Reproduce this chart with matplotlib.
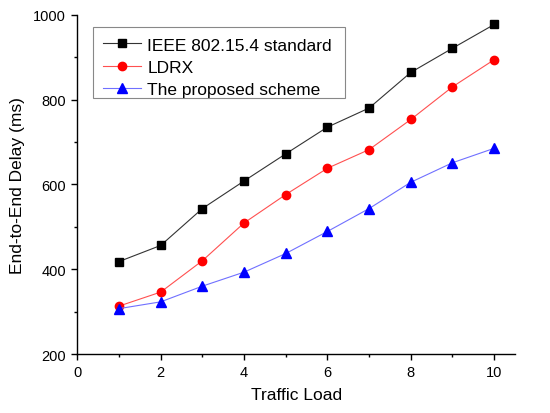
import matplotlib
matplotlib.use('Agg')
import matplotlib.pyplot as plt
from matplotlib.patches import Rectangle
from matplotlib.ticker import MultipleLocator

plt.rcParams['font.family'] = ['Liberation Sans', 'DejaVu Sans']

# data
load = [1, 2, 3, 4, 5, 6, 7, 8, 9, 10]
ieee = [418, 456, 543, 608, 672, 735, 780, 864, 921, 977]
ldrx = [313, 346, 420, 509, 576, 638, 682, 753, 830, 894]
proposed = [307, 323, 360, 393, 437, 489, 543, 605, 651, 685]

fig = plt.figure(figsize=(5.5, 4.14), dpi=100)
ax = fig.add_axes([0.1406, 0.1425, 0.7958, 0.8195])

ax.plot(load, ieee, color='#333333', lw=0.8, marker='s', ms=5.5,
        mfc='black', mec='black', label='IEEE 802.15.4 standard')
ax.plot(load, ldrx, color='#ff5050', lw=0.8, marker='o', ms=6,
        mfc='red', mec='red', label='LDRX')
ax.plot(load, proposed, color='#7070ff', lw=0.8, marker='^', ms=6.5,
        mfc='blue', mec='blue', label='The proposed scheme')

ax.set_xlim(0, 10.5)
ax.set_ylim(200, 1000)
ax.xaxis.set_major_locator(MultipleLocator(2))
ax.xaxis.set_minor_locator(MultipleLocator(1))
ax.yaxis.set_major_locator(MultipleLocator(200))
ax.yaxis.set_minor_locator(MultipleLocator(100))
ax.tick_params(which='major', direction='out', length=4.5, width=1, labelsize=10.5)
ax.tick_params(which='minor', direction='out', length=2.5, width=1)
for s in ['top', 'right']:
    ax.spines[s].set_visible(False)
for s in ['left', 'bottom']:
    ax.spines[s].set_linewidth(1)

ax.set_xlabel('Traffic Load', fontsize=12.5, labelpad=6)
ax.set_ylabel('End-to-End Delay (ms)', fontsize=12.5, labelpad=6)

# legend without its own frame, box drawn separately to get the tighter
# vertical padding of the original
ax.legend(loc='upper left', bbox_to_anchor=(0.035, 0.964), fontsize=12.5,
          frameon=False, handlelength=2.2, borderaxespad=0, labelspacing=0.42,
          borderpad=0.6, handletextpad=0.35)
ax.add_patch(Rectangle((0.0352, 0.7554), 0.5764, 0.2075, transform=ax.transAxes,
                       fill=False, edgecolor='#888888', lw=0.8, zorder=5))

fig.savefig('out.png', dpi=100)
